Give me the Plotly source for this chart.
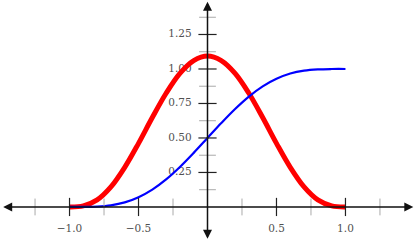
import plotly.graph_objects as go

# ---- data ----
x_vals = [-1.0, -0.9, -0.8, -0.7, -0.6, -0.5, -0.4, -0.3, -0.2, -0.1, 0.0,
          0.1, 0.2, 0.3, 0.4, 0.5, 0.6, 0.7, 0.8, 0.9, 1.0]
red_vals = [0.0, 0.0075, 0.051, 0.145, 0.287, 0.461, 0.648, 0.824, 0.968, 1.061, 1.094,
            1.061, 0.968, 0.824, 0.648, 0.461, 0.287, 0.145, 0.051, 0.0075, 0.0]
blue_vals = [0.0, 0.0002, 0.003, 0.012, 0.033, 0.071, 0.126, 0.200, 0.290, 0.392, 0.500,
             0.608, 0.710, 0.800, 0.874, 0.929, 0.967, 0.988, 0.997, 0.9998, 1.0]

x_major = [-1.0, -0.5, 0.5, 1.0]
x_major_labels = ["−1.0", "−0.5", "0.5", "1.0"]
x_minor = [-1.25, -0.75, -0.25, 0.25, 0.75, 1.25]
y_major = [0.25, 0.5, 0.75, 1.0, 1.25]
y_major_labels = ["0.25", "0.50", "0.75", "1.00", "1.25"]
y_minor = [0.125, 0.375, 0.625, 0.875, 1.125, 1.375]

X_RANGE = [-1.504, 1.504]
Y_RANGE = [-0.254, 1.5]

label_font = dict(family="DejaVu Serif", size=10.5, color="#505050")

fig = go.Figure()

# tick labels (under the curves)
fig.add_trace(go.Scatter(x=x_major, y=[-0.16] * len(x_major), mode="text",
                         text=x_major_labels, textfont=label_font,
                         hoverinfo="skip", showlegend=False))
fig.add_trace(go.Scatter(x=[-0.115] * len(y_major), y=y_major, mode="text",
                         text=y_major_labels, textposition="middle left",
                         textfont=label_font, hoverinfo="skip", showlegend=False))

# curves
fig.add_trace(go.Scatter(x=x_vals, y=red_vals, mode="lines",
                         line=dict(color="#ff0000", width=5, shape="spline", smoothing=1.0),
                         hoverinfo="skip", showlegend=False))
fig.add_trace(go.Scatter(x=x_vals, y=blue_vals, mode="lines",
                         line=dict(color="#0000ff", width=2.2, shape="spline", smoothing=1.0),
                         hoverinfo="skip", showlegend=False))

# minor ticks
fig.add_trace(go.Scatter(x=x_minor, y=[0] * len(x_minor), mode="markers",
                         marker=dict(symbol="line-ns", size=12,
                                     line=dict(color="#aaaaaa", width=1)),
                         hoverinfo="skip", showlegend=False))
fig.add_trace(go.Scatter(x=[0] * len(y_minor), y=y_minor, mode="markers",
                         marker=dict(symbol="line-ew", size=12,
                                     line=dict(color="#aaaaaa", width=1)),
                         hoverinfo="skip", showlegend=False))
# major ticks
fig.add_trace(go.Scatter(x=x_major, y=[0] * len(x_major), mode="markers",
                         marker=dict(symbol="line-ns", size=13,
                                     line=dict(color="#222222", width=1.2)),
                         hoverinfo="skip", showlegend=False))
fig.add_trace(go.Scatter(x=[0] * len(y_major), y=y_major, mode="markers",
                         marker=dict(symbol="line-ew", size=13,
                                     line=dict(color="#222222", width=1.2)),
                         hoverinfo="skip", showlegend=False))

# axis lines with arrows on both ends (drawn on top)
x_lo, x_hi = X_RANGE[0] + 0.012, X_RANGE[1] - 0.012
y_lo, y_hi = Y_RANGE[0] + 0.012, Y_RANGE[1] - 0.012
fig.add_annotation(x=x_hi, y=0, ax=x_lo, ay=0, xref="x", yref="y", axref="x", ayref="y",
                   showarrow=True, arrowhead=2, arrowside="end+start", arrowsize=1.2,
                   arrowwidth=1.5, arrowcolor="#111111", text="")
fig.add_annotation(x=0, y=y_hi, ax=0, ay=y_lo, xref="x", yref="y", axref="x", ayref="y",
                   showarrow=True, arrowhead=2, arrowside="end+start", arrowsize=1.2,
                   arrowwidth=1.5, arrowcolor="#111111", text="")

fig.update_layout(
    width=415, height=242,
    margin=dict(l=0, r=0, t=0, b=0),
    paper_bgcolor="white", plot_bgcolor="white",
    xaxis=dict(range=X_RANGE, visible=False, fixedrange=True),
    yaxis=dict(range=Y_RANGE, visible=False, fixedrange=True),
    showlegend=False,
)

fig.write_html("out.html", config={"displayModeBar": False},
               post_script="document.body.style.margin='0';document.body.style.overflow='hidden';")
